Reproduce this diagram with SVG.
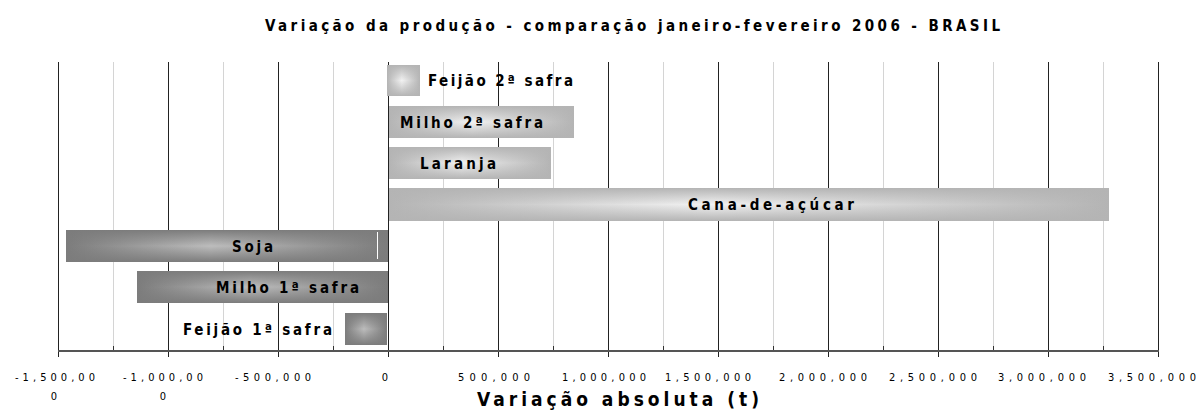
<svg xmlns="http://www.w3.org/2000/svg" width="1200" height="416" viewBox="0 0 1200 416">
<style>
.t{font-family:"Liberation Sans Narrow","DejaVu Sans Condensed","Liberation Sans",sans-serif;font-weight:bold;fill:#000}
.ttl{font-size:15px}
.lbl{font-size:15px}
.tick{font-size:11px;font-weight:normal}
.axt{font-size:19px}
.gd{stroke:#222;stroke-width:1}
.gl{stroke:#d4d4d4;stroke-width:1}
.tk{stroke:#333;stroke-width:1}
</style>
<defs>
<linearGradient id="hp" x1="0" y1="0" x2="1" y2="0">
<stop offset="0" stop-color="#b4b4b4"/><stop offset="0.45" stop-color="#f2f2f2"/><stop offset="1" stop-color="#b4b4b4"/>
</linearGradient>
<linearGradient id="vp" x1="0" y1="0" x2="0" y2="1">
<stop offset="0" stop-color="#b4b4b4" stop-opacity="1"/><stop offset="0.5" stop-color="#b4b4b4" stop-opacity="0"/><stop offset="1" stop-color="#b4b4b4" stop-opacity="1"/>
</linearGradient>
<linearGradient id="hn" x1="0" y1="0" x2="1" y2="0">
<stop offset="0" stop-color="#7c7c7c"/><stop offset="0.45" stop-color="#bdbdbd"/><stop offset="1" stop-color="#7c7c7c"/>
</linearGradient>
<linearGradient id="vn" x1="0" y1="0" x2="0" y2="1">
<stop offset="0" stop-color="#7c7c7c" stop-opacity="1"/><stop offset="0.5" stop-color="#7c7c7c" stop-opacity="0"/><stop offset="1" stop-color="#7c7c7c" stop-opacity="1"/>
</linearGradient>
</defs>
<rect width="1200" height="416" fill="#fff"/>
<text class="t ttl" x="265" y="31" textLength="735" lengthAdjust="spacing">Variação da produção - comparação janeiro-fevereiro 2006 - BRASIL</text>
<g id="grid">
<line class="gl" x1="113.5" y1="62" x2="113.5" y2="351"/>
<line class="gl" x1="223.5" y1="62" x2="223.5" y2="351"/>
<line class="gl" x1="333.5" y1="62" x2="333.5" y2="351"/>
<line class="gl" x1="443.5" y1="62" x2="443.5" y2="351"/>
<line class="gl" x1="553.5" y1="62" x2="553.5" y2="351"/>
<line class="gl" x1="663.5" y1="62" x2="663.5" y2="351"/>
<line class="gl" x1="773.5" y1="62" x2="773.5" y2="351"/>
<line class="gl" x1="883.5" y1="62" x2="883.5" y2="351"/>
<line class="gl" x1="993.5" y1="62" x2="993.5" y2="351"/>
<line class="gl" x1="1103.5" y1="62" x2="1103.5" y2="351"/>
<g class="tk">
<line x1="113.5" y1="346" x2="113.5" y2="351"/><line x1="223.5" y1="346" x2="223.5" y2="351"/><line x1="333.5" y1="346" x2="333.5" y2="351"/><line x1="443.5" y1="346" x2="443.5" y2="351"/><line x1="553.5" y1="346" x2="553.5" y2="351"/><line x1="663.5" y1="346" x2="663.5" y2="351"/><line x1="773.5" y1="346" x2="773.5" y2="351"/><line x1="883.5" y1="346" x2="883.5" y2="351"/><line x1="993.5" y1="346" x2="993.5" y2="351"/><line x1="1103.5" y1="346" x2="1103.5" y2="351"/>
</g>
<line class="gd" x1="58.5" y1="62" x2="58.5" y2="357"/>
<line class="gd" x1="168.5" y1="62" x2="168.5" y2="357"/>
<line class="gd" x1="278.5" y1="62" x2="278.5" y2="357"/>
<line class="gd" x1="388.5" y1="62" x2="388.5" y2="357"/>
<line class="gd" x1="498.5" y1="62" x2="498.5" y2="357"/>
<line class="gd" x1="608.5" y1="62" x2="608.5" y2="357"/>
<line class="gd" x1="718.5" y1="62" x2="718.5" y2="357"/>
<line class="gd" x1="828.5" y1="62" x2="828.5" y2="357"/>
<line class="gd" x1="938.5" y1="62" x2="938.5" y2="357"/>
<line class="gd" x1="1048.5" y1="62" x2="1048.5" y2="357"/>
<line class="gd" x1="1158.5" y1="62" x2="1158.5" y2="357"/>
<line x1="58" y1="351" x2="1159" y2="351" stroke="#555" stroke-width="2"/>
</g>
<g id="feijao2">
<rect x="387" y="65" width="33" height="31" fill="url(#hp)"/><rect x="387" y="65" width="33" height="31" fill="url(#vp)"/>
<text class="t lbl" x="428" y="86" textLength="145" lengthAdjust="spacing">Feijão 2ª safra</text>
</g>
<g id="milho2">
<rect x="389" y="106" width="185" height="32" fill="url(#hp)"/><rect x="389" y="106" width="185" height="32" fill="url(#vp)"/>
<text class="t lbl" x="400" y="127.5" textLength="143" lengthAdjust="spacing">Milho 2ª safra</text>
</g>
<g id="laranja">
<rect x="389" y="147" width="162" height="32" fill="url(#hp)"/><rect x="389" y="147" width="162" height="32" fill="url(#vp)"/>
<text class="t lbl" x="420" y="168.5" textLength="76" lengthAdjust="spacing">Laranja</text>
</g>
<g id="cana">
<rect x="389" y="188" width="720" height="33" fill="url(#hp)"/><rect x="389" y="188" width="720" height="33" fill="url(#vp)"/>
<text class="t lbl" x="688" y="210" textLength="166" lengthAdjust="spacing">Cana-de-açúcar</text>
</g>
<g id="soja">
<rect x="66" y="230" width="322" height="32" fill="url(#hn)"/><rect x="66" y="230" width="322" height="32" fill="url(#vn)"/>
<line x1="377.5" y1="232" x2="377.5" y2="259" stroke="#fff" stroke-width="1"/>
<text class="t lbl" x="232" y="251.5" textLength="41" lengthAdjust="spacing">Soja</text>
</g>
<g id="milho1">
<rect x="137" y="271" width="251" height="32" fill="url(#hn)"/><rect x="137" y="271" width="251" height="32" fill="url(#vn)"/>
<text class="t lbl" x="216" y="292.5" textLength="143" lengthAdjust="spacing">Milho 1ª safra</text>
</g>
<g id="feijao1">
<rect x="345" y="313" width="42" height="32" fill="url(#hn)"/><rect x="345" y="313" width="42" height="32" fill="url(#vn)"/>
<text class="t lbl" x="183" y="334.5" textLength="149" lengthAdjust="spacing">Feijão 1ª safra</text>
</g>
<g id="ticklabels" class="t tick" text-anchor="middle">
<text x="55" y="381" textLength="80" lengthAdjust="spacing">-1,500,00</text>
<text x="54" y="400">0</text>
<text x="163" y="381" textLength="80" lengthAdjust="spacing">-1,000,00</text>
<text x="163" y="400">0</text>
<text x="273" y="381" textLength="76" lengthAdjust="spacing">-500,000</text>
<text x="385" y="381">0</text>
<text x="494" y="381" textLength="72" lengthAdjust="spacing">500,000</text>
<text x="604" y="381" textLength="84" lengthAdjust="spacing">1,000,000</text>
<text x="708" y="381" textLength="86" lengthAdjust="spacing">1,500,000</text>
<text x="823" y="381" textLength="88" lengthAdjust="spacing">2,000,000</text>
<text x="933" y="381" textLength="88" lengthAdjust="spacing">2,500,000</text>
<text x="1042" y="381" textLength="88" lengthAdjust="spacing">3,000,000</text>
<text x="1152" y="381" textLength="88" lengthAdjust="spacing">3,500,000</text>
</g>
<text class="t axt" x="477" y="406" textLength="282" lengthAdjust="spacing">Variação absoluta (t)</text>
</svg>
